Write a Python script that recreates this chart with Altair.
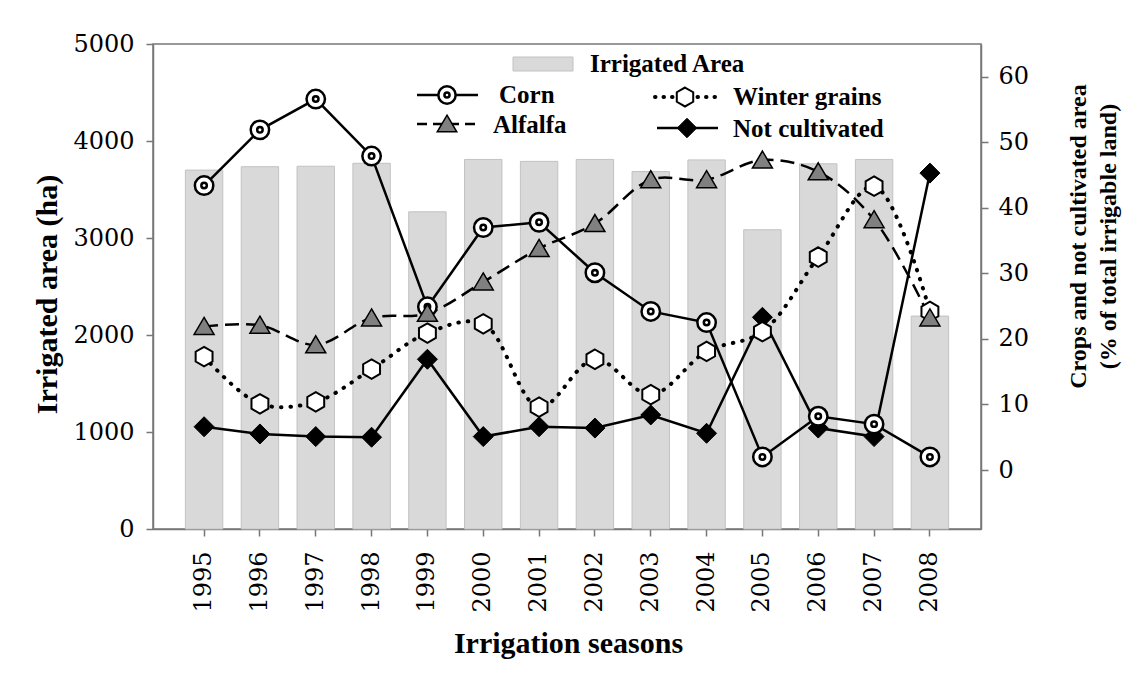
import altair as alt
import pandas as pd

# ---------------- data ----------------
years = [str(y) for y in range(1995, 2009)]
irrigated_ha = [3700, 3735, 3740, 3770, 3270, 3810, 3790, 3810, 3685, 3805, 3085, 3765, 3810, 2195]
corn_pct = [43.4, 51.9, 56.6, 47.9, 24.9, 37.0, 37.8, 30.1, 24.2, 22.5, 2.0, 8.2, 7.0, 2.0]
alfalfa_pct = [21.9, 22.1, 19.1, 23.2, 23.9, 28.7, 33.8, 37.6, 44.3, 44.3, 47.3, 45.5, 38.2, 23.2]
winter_pct = [17.3, 10.1, 10.4, 15.4, 20.9, 22.3, 9.6, 16.9, 11.5, 18.1, 21.1, 32.5, 43.3, 24.2]
notcult_pct = [6.6, 5.5, 5.1, 5.0, 16.9, 5.1, 6.6, 6.4, 8.4, 5.6, 23.3, 6.4, 5.1, 45.3]

left_ticks = [0, 1000, 2000, 3000, 4000, 5000]
right_ticks = [0, 10, 20, 30, 40, 50, 60]

df = pd.DataFrame({
    "year": years,
    "irrigated": irrigated_ha,
    "corn": corn_pct,
    "alfalfa": alfalfa_pct,
    "winter": winter_pct,
    "notcult": notcult_pct,
})

FONT = "Liberation Serif"
LFONT = "DejaVu Serif"
LSIZE = 24
AX = "#777777"
HEX = "M0,-1L0.866,-0.5L0.866,0.5L0,1L-0.866,0.5L-0.866,-0.5Z"
TRI = "M0,-0.9L1,0.8L-1,0.8Z"

xaxis = alt.Axis(
    title="Irrigation seasons", labelAngle=270, labelFont=LFONT, labelFontSize=LSIZE,
    labelColor="black", labelPadding=15, tickSize=7, tickColor=AX, tickWidth=1.5,
    domainColor=AX, domainWidth=1.5, titleFont=FONT, titleFontSize=30,
    titleFontWeight="bold", titleColor="black", titleY=114, titleBaseline="middle",
    titleX=415, titleAlign="center", grid=False,
)
xscale = alt.Scale(paddingInner=0.33, paddingOuter=0.58)


def xenc():
    return alt.X("year:N", sort=years, scale=xscale, axis=xaxis)


bars = alt.Chart(df).mark_bar(color="#d9d9d9", stroke="#c2c2c2", strokeWidth=1).encode(
    x=xenc(),
    y=alt.Y(
        "irrigated:Q",
        scale=alt.Scale(domain=[0, 5000], nice=False),
        axis=alt.Axis(
            values=left_ticks, format="d", title="Irrigated area (ha)", labelFont=LFONT,
            labelFontSize=LSIZE, labelColor="black", labelPadding=12, tickSize=7, tickColor=AX,
            tickWidth=1.5, domainColor=AX, domainWidth=1.5, titleFont=FONT, titleFontSize=30,
            titleFontWeight="bold", titleColor="black", titleAngle=270, titleX=-106,
            titleY=250, titleBaseline="middle", titleAlign="center", grid=False,
        ),
    ),
)

rscale = alt.Scale(domain=[-9, 65], nice=False, zero=False)
right_axis = alt.Axis(
    orient="right", values=right_ticks, format="d",
    title=["Crops and not cultivated area", "(% of total irrigable land)"],
    labelFont=LFONT, labelFontSize=LSIZE, labelColor="black", labelPadding=10,
    tickSize=7, tickColor=AX, tickWidth=1.5, domainColor=AX, domainWidth=1.5,
    titleFont=FONT, titleFontSize=24, titleFontWeight="bold", titleColor="black",
    titleAngle=270, titleX=97, titleY=192, titleBaseline="middle", titleAlign="center",
    titleLineHeight=30, grid=False,
)


def yr(field):
    return alt.Y(f"{field}:Q", scale=rscale, axis=right_axis,
                 title=["Crops and not cultivated area", "(% of total irrigable land)"])


base = alt.Chart(df)

line_alf = base.mark_line(color="black", strokeWidth=2.5, strokeDash=[14, 7],
                          interpolate="catmull-rom").encode(x=xenc(), y=yr("alfalfa"))
line_win = base.mark_line(color="black", strokeWidth=4, strokeDash=[0.5, 9], strokeCap="round",
                          interpolate="catmull-rom").encode(x=xenc(), y=yr("winter"))
line_corn = base.mark_line(color="black", strokeWidth=2.5).encode(x=xenc(), y=yr("corn"))
line_nc = base.mark_line(color="black", strokeWidth=2.5).encode(x=xenc(), y=yr("notcult"))

pt_nc = base.mark_point(shape="diamond", size=400, filled=True, fill="black", stroke="black",
                        strokeWidth=1, opacity=1).encode(x=xenc(), y=yr("notcult"))
pt_win = base.mark_point(shape=HEX, size=380, filled=True, fill="white", stroke="black",
                         strokeWidth=2, opacity=1).encode(x=xenc(), y=yr("winter"))
pt_corn_o = base.mark_point(shape="circle", size=340, filled=True, fill="white", stroke="black",
                            strokeWidth=2.5, opacity=1).encode(x=xenc(), y=yr("corn"))
pt_corn_i = base.mark_point(shape="circle", size=30, filled=True, fill="white", stroke="black",
                            strokeWidth=2.5, opacity=1).encode(x=xenc(), y=yr("corn"))
pt_alf = base.mark_point(shape=TRI, size=400, filled=True, fill="#808080", stroke="black",
                         strokeWidth=1.5, opacity=1).encode(x=xenc(), y=yr("alfalfa"))

right_layers = alt.layer(
    line_alf, line_win, line_corn, line_nc, pt_nc, pt_win, pt_corn_o, pt_corn_i, pt_alf
).resolve_scale(y="shared").resolve_axis(y="shared")

# ---------------- legend (decoration) ----------------
one = alt.Data(values=[{"k": 1}])


def ltext(txt, x, y):
    return alt.Chart(one).mark_text(text=txt, font=FONT, fontSize=25, fontWeight="bold",
                                    align="left", baseline="alphabetic", color="black").encode(
        x=alt.value(x), y=alt.value(y))


def lrule(x1, x2, y, **kw):
    return alt.Chart(one).mark_rule(color="black", **kw).encode(
        x=alt.value(x1), x2=alt.value(x2), y=alt.value(y))


def lpoint(x, y, **kw):
    return alt.Chart(one).mark_point(filled=True, opacity=1, **kw).encode(
        x=alt.value(x), y=alt.value(y))


legend = alt.layer(
    alt.Chart(one).mark_rect(color="#d9d9d9", stroke="#c2c2c2", strokeWidth=1).encode(
        x=alt.value(360), x2=alt.value(420), y=alt.value(13), y2=alt.value(27)),
    ltext("Irrigated Area", 437, 28),
    lrule(264, 325, 51, strokeWidth=2.5),
    lpoint(294, 51, shape="circle", size=300, fill="white", stroke="black", strokeWidth=2.5),
    lpoint(294, 51, shape="circle", size=26, fill="white", stroke="black", strokeWidth=2.5),
    ltext("Corn", 346, 59),
    lrule(264, 325, 80, strokeWidth=2.5, strokeDash=[10, 6]),
    lpoint(294, 80, shape=TRI, size=380, fill="#808080", stroke="black", strokeWidth=1.5),
    ltext("Alfalfa", 340, 89),
    lrule(502, 564, 53, strokeWidth=4, strokeDash=[0.5, 8], strokeCap="round"),
    lpoint(532, 53, shape=HEX, size=360, fill="white", stroke="black", strokeWidth=2),
    ltext("Winter grains", 580, 61),
    lrule(504, 565, 84, strokeWidth=2.5),
    lpoint(534, 84, shape="diamond", size=380, fill="black", stroke="black", strokeWidth=1),
    ltext("Not cultivated", 580, 93),
)

chart = alt.layer(bars, right_layers, legend).resolve_scale(y="independent").properties(
    width=828, height=485,
    autosize=alt.AutoSizeParams(type="none"),
    padding={"left": 145, "top": 36, "right": 143, "bottom": 141},
    background="white",
).configure_view(stroke=AX, strokeWidth=1.5)

chart.save("out.html", embed_options={"renderer": "svg", "actions": False})
